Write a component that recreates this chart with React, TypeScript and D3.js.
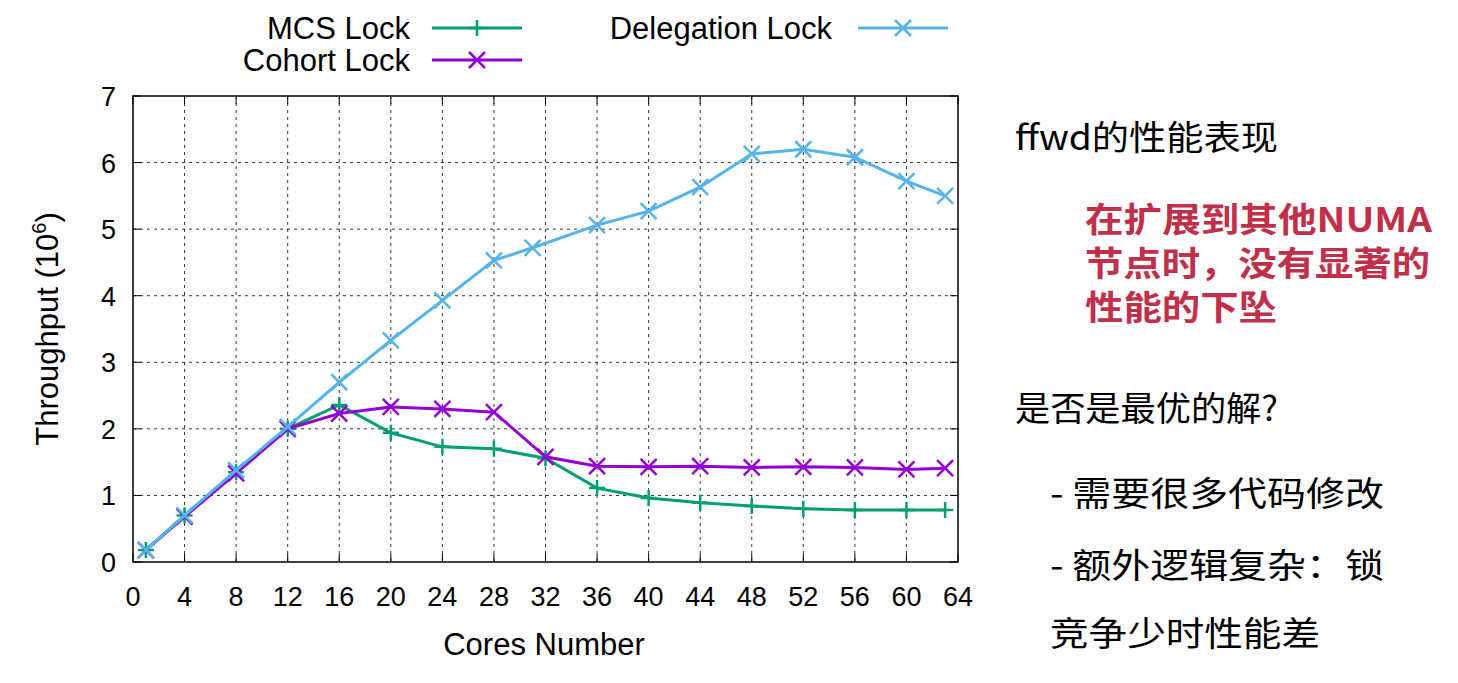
import React from "react";
import * as d3 from "d3";

const xTicks = [0, 4, 8, 12, 16, 20, 24, 28, 32, 36, 40, 44, 48, 52, 56, 60, 64];
const yTicks = [0, 1, 2, 3, 4, 5, 6, 7];
const mcsX = [1, 4, 8, 12, 16, 20, 24, 28, 32, 36, 40, 44, 48, 52, 56, 60, 63];
const mcsY = [0.18, 0.7, 1.35, 2.0, 2.36, 1.94, 1.73, 1.7, 1.56, 1.11, 0.96, 0.89, 0.84, 0.8, 0.78, 0.78, 0.78];
const cohortX = mcsX;
const cohortY = [0.18, 0.68, 1.33, 2.0, 2.23, 2.33, 2.3, 2.25, 1.58, 1.44, 1.43, 1.44, 1.42, 1.43, 1.42, 1.39, 1.41];
const delX = [1, 4, 8, 12, 16, 20, 24, 28, 31, 36, 40, 44, 48, 52, 56, 60, 63];
const delY = [0.18, 0.7, 1.38, 2.03, 2.7, 3.33, 3.93, 4.53, 4.72, 5.06, 5.27, 5.63, 6.13, 6.2, 6.08, 5.72, 5.5];

const series = [
  { name: "MCS Lock", xs: mcsX, ys: mcsY, color: "#009e73", mark: "plus" },
  { name: "Cohort Lock", xs: cohortX, ys: cohortY, color: "#9400d3", mark: "cross" },
  { name: "Delegation Lock", xs: delX, ys: delY, color: "#56b4e9", mark: "cross" },
];

const F = "'Liberation Sans', Arial, sans-serif";
const CJK = "'Noto Sans CJK SC', sans-serif";

function Marker({ x, y, kind, color }: any) {
  const s = 8;
  return kind === "plus" ? (
    <path d={`M${x - s},${y}H${x + s}M${x},${y - s}V${y + s}`} stroke={color} strokeWidth={2.5} />
  ) : (
    <path d={`M${x - s},${y - s}L${x + s},${y + s}M${x - s},${y + s}L${x + s},${y - s}`} stroke={color} strokeWidth={2.5} />
  );
}

const texts = [
  { t: "ffwd的性能表现", x: 1015, y: 150, w: 263, red: false },
  { t: "在扩展到其他NUMA", x: 1085, y: 232, w: 347, red: true },
  { t: "节点时，没有显著的", x: 1085, y: 276, w: 345, red: true },
  { t: "性能的下坠", x: 1085, y: 320, w: 192, red: true },
  { t: "是否是最优的解?", x: 1015, y: 421, w: 263, red: false },
  { t: "- 需要很多代码修改", x: 1050, y: 506, w: 334, red: false },
  { t: "- 额外逻辑复杂：锁", x: 1050, y: 578, w: 334, red: false },
  { t: "竞争少时性能差", x: 1050, y: 646, w: 270, red: false },
];

export default function App() {
  const x = d3.scaleLinear().domain([0, 64]).range([133, 958]);
  const y = d3.scaleLinear().domain([0, 7]).range([562, 96]);
  return (
    <svg width={1458} height={683} style={{ position: "absolute", left: 0, top: 0, background: "#fff" }}>
      {xTicks.slice(1, -1).map((t) => (
        <line key={"gx" + t} x1={x(t)} x2={x(t)} y1={96} y2={562} stroke="#000" strokeWidth={0.8} strokeDasharray="3,4" />
      ))}
      {yTicks.slice(1, -1).map((t) => (
        <line key={"gy" + t} x1={133} x2={958} y1={y(t)} y2={y(t)} stroke="#000" strokeWidth={0.8} strokeDasharray="3,4" />
      ))}
      <rect x={133} y={96} width={825} height={466} fill="none" stroke="#000" strokeWidth={1.5} />
      {xTicks.map((t) => (
        <g key={"tx" + t}>
          <line x1={x(t)} x2={x(t)} y1={562} y2={554} stroke="#000" />
          <line x1={x(t)} x2={x(t)} y1={96} y2={104} stroke="#000" />
          <text x={x(t)} y={606} textAnchor="middle" fontFamily={F} fontSize={27}>{t}</text>
        </g>
      ))}
      {yTicks.map((t) => (
        <g key={"ty" + t}>
          <line x1={133} x2={141} y1={y(t)} y2={y(t)} stroke="#000" />
          <line x1={958} x2={950} y1={y(t)} y2={y(t)} stroke="#000" />
          <text x={116} y={y(t) + 10} textAnchor="end" fontFamily={F} fontSize={27}>{t}</text>
        </g>
      ))}
      <text x={544} y={655} textAnchor="middle" fontFamily={F} fontSize={31}>Cores Number</text>
      <text transform="translate(58,329) rotate(-90)" textAnchor="middle" fontFamily={F} fontSize={31}>
        Throughput (10<tspan dy={-12} fontSize={20}>6</tspan><tspan dy={12}>)</tspan>
      </text>
      {series.map((s) => {
        const pts = s.xs.map((v, i) => [x(v), y(s.ys[i])] as [number, number]);
        return (
          <g key={s.name}>
            <path d={d3.line()(pts) || ""} fill="none" stroke={s.color} strokeWidth={3} />
            {pts.map((p, i) => <Marker key={i} x={p[0]} y={p[1]} kind={s.mark} color={s.color} />)}
          </g>
        );
      })}
      {[
        { s: series[0], tx: 410, lx: 432, ly: 28 },
        { s: series[1], tx: 410, lx: 432, ly: 60 },
        { s: series[2], tx: 832, lx: 858, ly: 28 },
      ].map(({ s, tx, lx, ly }) => (
        <g key={"lg" + s.name}>
          <text x={tx} y={ly + 11} textAnchor="end" fontFamily={F} fontSize={31}>{s.name}</text>
          <line x1={lx} x2={lx + 90} y1={ly} y2={ly} stroke={s.color} strokeWidth={3} />
          <Marker x={lx + 45} y={ly} kind={s.mark} color={s.color} />
        </g>
      ))}
      <g fontFamily={CJK} fontSize={34}>
        {texts.map((d) => (
          <text key={d.t} x={d.x} y={d.y} textLength={d.w} lengthAdjust="spacingAndGlyphs"
            fill={d.red ? "#c0304a" : "#000"} fontWeight={d.red ? "bold" : "normal"}>{d.t}</text>
        ))}
      </g>
    </svg>
  );
}
